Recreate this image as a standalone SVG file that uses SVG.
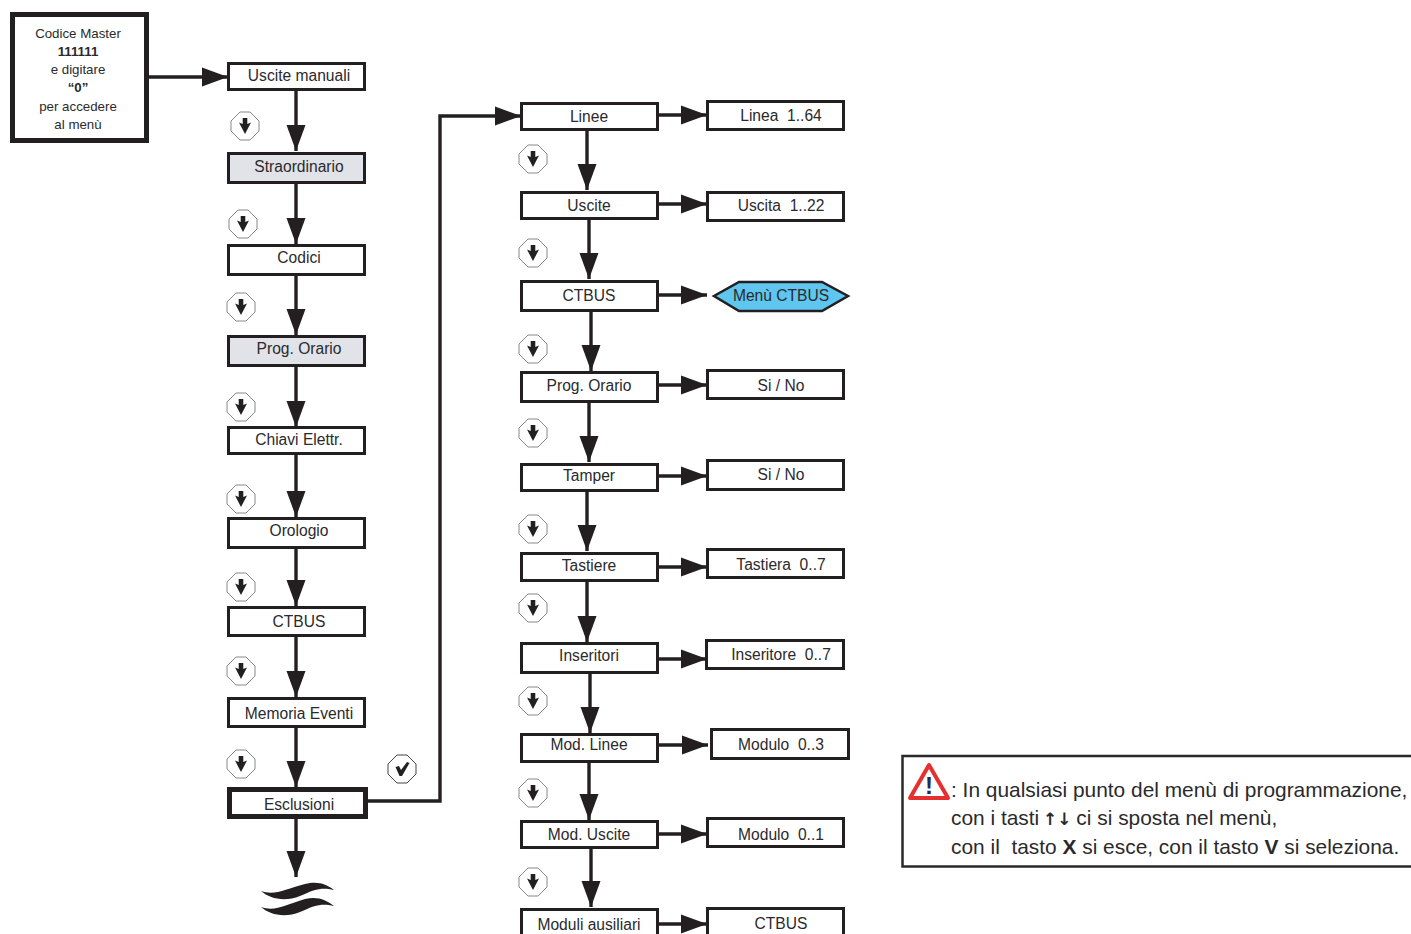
<svg xmlns="http://www.w3.org/2000/svg" width="1411" height="934" viewBox="0 0 1411 934">
<style>
text{font-family:"Liberation Sans",Arial,sans-serif;fill:#2a2a2c;font-size:15.600px;text-anchor:middle;white-space:pre}
.b{fill:#fff;stroke:#231f20;stroke-width:3}
.g{fill:#e1e3e8;stroke:#231f20;stroke-width:3}
.c{fill:none;stroke:#231f20;stroke-width:3.400;marker-end:url(#ah)}
.s{font-size:13.300px}
.note{font-size:20.900px;text-anchor:start}
.ar{font-family:"DejaVu Sans",sans-serif;font-weight:bold;font-size:17px}
</style>
<defs>
<marker id="ah" markerUnits="userSpaceOnUse" markerWidth="28" markerHeight="22" refX="26" refY="11" orient="auto"><path d="M0 1.500L26 11L0 20.500Z" fill="#231f20"/></marker>
<g id="kd"><path d="M-5-14H5L14-5V5L5 14H-5L-14 5V-5Z" fill="#fff" stroke="#888" stroke-width="1"/><path d="M-2.300-8H2.300V-2L6-3.500L0 8L-6-3.500L-2.300-2Z" fill="#231f20"/></g>
<g id="kv"><path d="M-5-14H5L14-5V5L5 14H-5L-14 5V-5Z" fill="#fff" stroke="#444" stroke-width="1"/><path d="M-6.500-2L-3-3L-1 1L5-7L7.500-6L0 7H-2.500Z" fill="#231f20"/></g>
</defs>
<g id="connectors">
<path class="c" d="M148 77H228"/>
<path class="c" d="M296 90V151"/><path class="c" d="M296 183V244"/><path class="c" d="M296 275V335"/><path class="c" d="M296 366V427"/><path class="c" d="M296 454V517"/><path class="c" d="M296 548V606"/><path class="c" d="M296 636V697"/><path class="c" d="M296 727V787"/><path class="c" d="M296 817V877"/>
<path class="c" d="M366 801H440V116H521"/>
<path class="c" d="M587 130V190"/><path class="c" d="M589 219V279"/><path class="c" d="M591 310V371"/><path class="c" d="M589 401V462"/><path class="c" d="M587 490V551"/><path class="c" d="M587 580V642"/><path class="c" d="M590 672V733"/><path class="c" d="M589 761V820"/><path class="c" d="M591 847V907"/>
<path class="c" d="M658 115H707"/><path class="c" d="M658 204H707"/><path class="c" d="M658 295H707"/><path class="c" d="M658 385H707"/><path class="c" d="M658 476H707"/><path class="c" d="M658 567H707"/><path class="c" d="M658 659H707"/><path class="c" d="M658 745H708"/><path class="c" d="M658 834H707"/><path class="c" d="M658 924H707"/>
</g>
<g id="master"><rect x="12.500" y="14.500" width="134" height="126" fill="#fff" stroke="#231f20" stroke-width="5"/>
<text class="s" x="78" y="38">Codice Master</text><text class="s" x="78" y="56" font-weight="bold">111111</text><text class="s" x="78" y="74">e digitare</text><text class="s" x="78" y="92" font-weight="bold">“0”</text><text class="s" x="78" y="111">per accedere</text><text class="s" x="78" y="129">al menù</text></g>
<g id="l1"><rect class="b" x="228.500" y="63.500" width="136" height="26"/><text x="299" y="81">Uscite manuali</text></g>
<g id="l2"><rect class="g" x="228.500" y="153.500" width="136" height="29"/><text x="299" y="172">Straordinario</text></g>
<g id="l3"><rect class="b" x="228.500" y="245.500" width="136" height="29"/><text x="299" y="263">Codici</text></g>
<g id="l4"><rect class="g" x="228.500" y="336.500" width="136" height="29"/><text x="299" y="354">Prog. Orario</text></g>
<g id="l5"><rect class="b" x="228.500" y="427.500" width="136" height="26"/><text x="299" y="445">Chiavi Elettr.</text></g>
<g id="l6"><rect class="b" x="228.500" y="518.500" width="136" height="29"/><text x="299" y="536">Orologio</text></g>
<g id="l7"><rect class="b" x="228.500" y="607.500" width="136" height="28"/><text x="299" y="627">CTBUS</text></g>
<g id="l8"><rect class="b" x="228.500" y="698.500" width="136" height="28"/><text x="299" y="719">Memoria Eventi</text></g>
<g id="l9"><rect x="229.500" y="789.500" width="136" height="27" fill="#fff" stroke="#231f20" stroke-width="5"/><text x="299" y="810">Esclusioni</text></g>
<g id="m1"><rect class="b" x="521.500" y="103.500" width="136" height="26"/><text x="589" y="122">Linee</text></g>
<g id="m2"><rect class="b" x="521.500" y="192.500" width="136" height="26"/><text x="589" y="211">Uscite</text></g>
<g id="m3"><rect class="b" x="521.500" y="281.500" width="136" height="29"/><text x="589" y="301">CTBUS</text></g>
<g id="m4"><rect class="b" x="521.500" y="372.500" width="136" height="29"/><text x="589" y="391">Prog. Orario</text></g>
<g id="m5"><rect class="b" x="521.500" y="464.500" width="136" height="26"/><text x="589" y="481">Tamper</text></g>
<g id="m6"><rect class="b" x="521.500" y="553.500" width="136" height="27"/><text x="589" y="571">Tastiere</text></g>
<g id="m7"><rect class="b" x="521.500" y="643.500" width="136" height="29"/><text x="589" y="661">Inseritori</text></g>
<g id="m8"><rect class="b" x="521.500" y="734.500" width="136" height="27"/><text x="589" y="750">Mod. Linee</text></g>
<g id="m9"><rect class="b" x="521.500" y="821.500" width="136" height="26"/><text x="589" y="840">Mod. Uscite</text></g>
<g id="m10"><rect class="b" x="521.500" y="909.500" width="136" height="30"/><text x="589" y="930">Moduli ausiliari</text></g>
<g id="r1"><rect class="b" x="707.500" y="101.500" width="136" height="28"/><text x="781" y="121">Linea  1..64</text></g>
<g id="r2"><rect class="b" x="707.500" y="192.500" width="136" height="28"/><text x="781" y="211">Uscita  1..22</text></g>
<g id="r3"><path d="M739 282H822L848 296L822 311H739L714 296Z" fill="#5fc6ef" stroke="#231f20" stroke-width="2.500"/><text x="781" y="301">Menù CTBUS</text></g>
<g id="r4"><rect class="b" x="707.500" y="370.500" width="136" height="28"/><text x="781" y="391">Si / No</text></g>
<g id="r5"><rect class="b" x="707.500" y="460.500" width="136" height="29"/><text x="781" y="480">Si / No</text></g>
<g id="r6"><rect class="b" x="707.500" y="549.500" width="136" height="28"/><text x="781" y="570">Tastiera  0..7</text></g>
<g id="r7"><rect class="b" x="706.500" y="640.500" width="137" height="28"/><text x="781" y="660">Inseritore  0..7</text></g>
<g id="r8"><rect class="b" x="711.500" y="729.500" width="137" height="29"/><text x="781" y="750">Modulo  0..3</text></g>
<g id="r9"><rect class="b" x="707.500" y="818.500" width="136" height="28"/><text x="781" y="840">Modulo  0..1</text></g>
<g id="r10"><rect class="b" x="707.500" y="908.500" width="136" height="30"/><text x="781" y="929">CTBUS</text></g>
<g id="keys">
<use href="#kd" x="245" y="126"/><use href="#kd" x="243" y="224"/><use href="#kd" x="241" y="307"/><use href="#kd" x="241" y="407"/><use href="#kd" x="241" y="499"/><use href="#kd" x="241" y="587"/><use href="#kd" x="241" y="671"/><use href="#kd" x="241" y="764"/><use href="#kv" x="402" y="769"/>
<use href="#kd" x="533" y="159"/><use href="#kd" x="533" y="253"/><use href="#kd" x="533" y="349"/><use href="#kd" x="533" y="433"/><use href="#kd" x="533" y="529"/><use href="#kd" x="533" y="608"/><use href="#kd" x="533" y="701"/><use href="#kd" x="533" y="793"/><use href="#kd" x="533" y="882"/>
</g>
<g id="break"><path d="M261 891C275 896 285 889 305 884C318 881 326 884 334 890C322 887 315 889 300 896C285 902 270 899 261 891Z" fill="#231f20"/><path d="M261 907C275 912 285 905 305 899C318 896 326 900 334 906C322 903 315 905 300 912C285 918 270 915 261 907Z" fill="#231f20"/></g>
<g id="note"><path d="M1413 756H902.500V866.500H1413" fill="#fff" stroke="#2a2a2c" stroke-width="2.500"/>
<path d="M929 765L948 798H910Z" fill="#fff" stroke="#e4312f" stroke-width="4" stroke-linejoin="round"/>
<text x="929" y="794" style="font-size:24px;font-weight:bold;fill:#1f2a5a">!</text>
<text class="note" x="951" y="797">: In qualsiasi punto del menù di programmazione,</text>
<text class="note" x="951" y="825">con i tasti <tspan class="ar" dx="-2">↑↓</tspan><tspan dx="-1"> ci si sposta nel menù,</tspan></text>
<text class="note" x="951" y="854">con il  tasto <tspan font-weight="bold">X</tspan> si esce, con il tasto <tspan font-weight="bold">V</tspan> si seleziona.</text></g>
</svg>
